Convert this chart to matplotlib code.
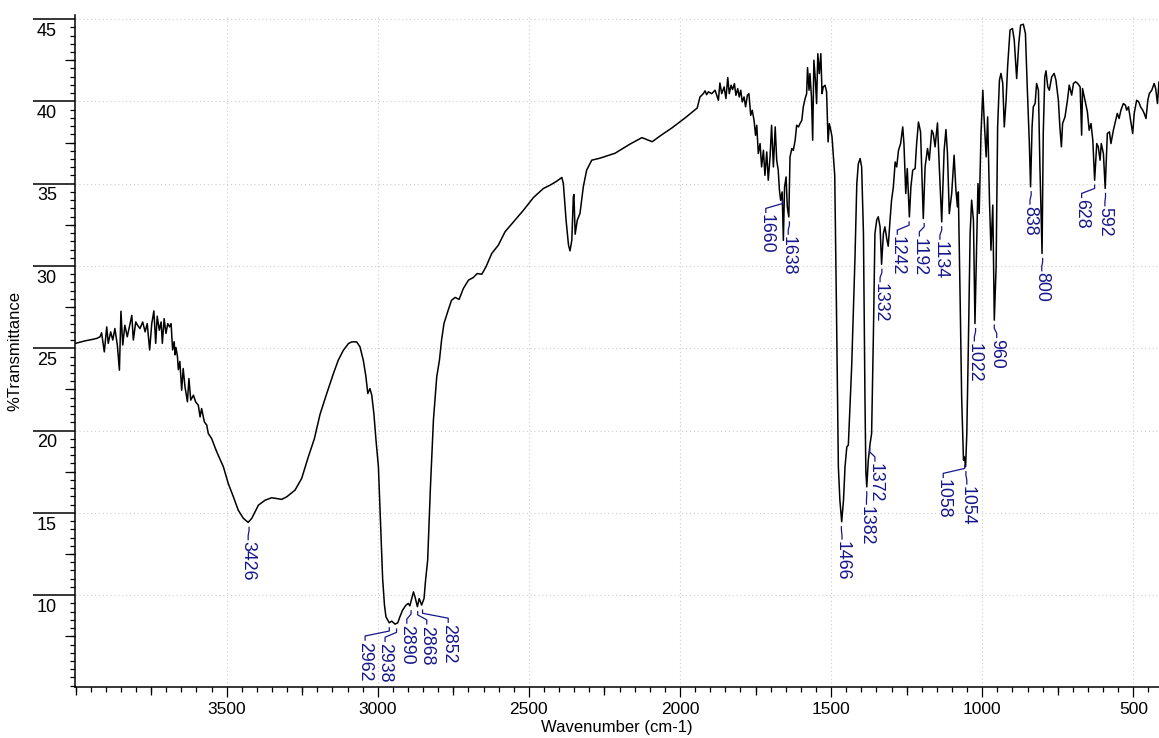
import matplotlib.pyplot as plt
from matplotlib.ticker import MultipleLocator, NullLocator

plt.rcParams['font.family'] = ['Liberation Sans', 'DejaVu Sans']

# IR spectrum (wavenumber in cm-1, %T)
wavenumber = [
    4002, 3969, 3947, 3930, 3919, 3914, 3905, 3897, 3892, 3884,
    3877, 3870, 3862, 3855, 3850, 3844, 3837, 3829, 3822, 3814,
    3809, 3801, 3795, 3787, 3778, 3770, 3763, 3755, 3748, 3741,
    3735, 3730, 3723, 3717, 3713, 3707, 3701, 3695, 3689, 3684,
    3679, 3674, 3671, 3668, 3663, 3660, 3655, 3649, 3644, 3638,
    3630, 3625, 3619, 3610, 3603, 3594, 3588, 3583, 3574, 3566,
    3561, 3550, 3536, 3528, 3511, 3495, 3478, 3462, 3445, 3429,
    3417, 3395, 3373, 3351, 3318, 3301, 3274, 3252, 3230, 3210,
    3191, 3169, 3147, 3131, 3114, 3097, 3086, 3070, 3059, 3048,
    3040, 3033, 3026, 3020, 3013, 3006, 2998, 2990, 2984, 2978,
    2973, 2962, 2954, 2943, 2934, 2927, 2918, 2907, 2899, 2894,
    2886, 2882, 2877, 2869, 2863, 2855, 2847, 2842, 2835, 2826,
    2816, 2805, 2796, 2789, 2781, 2767, 2756, 2744, 2731, 2717,
    2700, 2684, 2671, 2656, 2642, 2623, 2601, 2579, 2551, 2518,
    2485, 2452, 2430, 2408, 2391, 2386, 2377, 2369, 2364, 2358,
    2353, 2351, 2347, 2340, 2331, 2320, 2309, 2292, 2265, 2215,
    2166, 2126, 2092, 2066, 2026, 1983, 1943, 1934, 1923, 1917,
    1912, 1906, 1895, 1884, 1873, 1868, 1862, 1854, 1848, 1842,
    1837, 1831, 1826, 1820, 1815, 1809, 1804, 1799, 1794, 1788,
    1783, 1777, 1772, 1766, 1761, 1755, 1750, 1746, 1741, 1735,
    1730, 1724, 1719, 1713, 1708, 1702, 1697, 1691, 1685, 1680,
    1675, 1671, 1667, 1662, 1658, 1654, 1649, 1645, 1640, 1636,
    1630, 1625, 1619, 1614, 1608, 1603, 1597, 1592, 1586, 1581,
    1578, 1573, 1570, 1565, 1561, 1557, 1552, 1548, 1544, 1539,
    1534, 1530, 1526, 1520, 1515, 1510, 1506, 1501, 1497, 1493,
    1488, 1482, 1476, 1471, 1465, 1459, 1454, 1448, 1443, 1432,
    1426, 1421, 1415, 1410, 1404, 1399, 1393, 1388, 1385, 1382,
    1377, 1371, 1366, 1360, 1355, 1349, 1344, 1338, 1333, 1327,
    1322, 1316, 1311, 1305, 1300, 1294, 1288, 1283, 1277, 1270,
    1263, 1259, 1253, 1248, 1241, 1236, 1230, 1222, 1217, 1211,
    1204, 1195, 1189, 1181, 1175, 1167, 1162, 1156, 1148, 1142,
    1134, 1126, 1120, 1115, 1109, 1101, 1093, 1087, 1082, 1079,
    1073, 1068, 1062, 1059, 1055, 1051, 1046, 1040, 1035, 1029,
    1024, 1018, 1014, 1010, 1004, 998, 994, 987, 982, 976,
    971, 965, 960, 954, 949, 943, 938, 932, 927, 921,
    916, 908, 900, 894, 886, 879, 873, 864, 857, 851,
    844, 840, 835, 831, 825, 820, 814, 809, 802, 798,
    793, 789, 783, 778, 770, 762, 756, 748, 743, 738,
    734, 726, 718, 712, 704, 698, 691, 684, 676, 671,
    668, 660, 652, 646, 640, 634, 628, 621, 616, 610,
    606, 599, 593, 586, 579, 574, 566, 558, 553, 547,
    541, 533, 526, 522, 516, 509, 502, 497, 489, 482,
    476, 469, 464, 458, 452, 447, 439, 431, 426, 420,
    415, 410,
]
transmittance = [
    25.29, 25.45, 25.53, 25.60, 25.70, 25.94, 24.78, 26.30, 25.30, 26.00,
    25.50, 26.20, 25.20, 23.67, 27.25, 25.20, 26.40, 25.70, 26.30, 27.00,
    25.50, 26.60, 26.40, 26.20, 26.60, 26.00, 26.50, 24.90, 26.50, 27.27,
    25.30, 26.95, 26.10, 26.60, 25.30, 26.80, 25.90, 26.50, 26.30, 26.50,
    24.90, 25.40, 24.60, 25.05, 24.50, 23.70, 24.20, 22.45, 23.77, 22.66,
    21.75, 23.16, 21.85, 22.15, 21.75, 21.54, 20.83, 21.34, 20.53, 20.33,
    19.82, 19.52, 18.85, 18.50, 17.80, 16.79, 15.98, 15.17, 14.67, 14.42,
    14.67, 15.47, 15.77, 15.92, 15.82, 15.98, 16.38, 17.09, 18.40, 19.50,
    21.00, 22.25, 23.46, 24.27, 24.88, 25.29, 25.39, 25.39, 25.09, 24.27,
    23.36, 22.25, 22.55, 22.15, 21.03, 19.42, 17.80, 14.00, 11.00, 9.40,
    8.68, 8.32, 8.42, 8.24, 8.32, 8.68, 9.09, 9.39, 9.50, 9.35,
    9.90, 10.20, 9.90, 9.30, 9.80, 9.40, 9.80, 10.90, 12.13, 16.50,
    20.63, 23.27, 24.28, 25.50, 26.51, 27.32, 27.92, 28.09, 27.97, 28.63,
    29.14, 29.30, 29.54, 29.50, 29.95, 30.76, 31.27, 32.08, 32.68, 33.39,
    34.16, 34.71, 34.91, 35.15, 35.38, 35.01, 32.78, 31.27, 30.92, 31.57,
    34.20, 34.34, 31.93, 32.78, 33.19, 34.81, 35.82, 36.43, 36.55, 36.85,
    37.40, 37.80, 37.55, 37.90, 38.40, 39.00, 39.60, 40.27, 40.47, 40.64,
    40.41, 40.58, 40.47, 40.68, 40.07, 41.12, 40.47, 40.88, 40.17, 41.45,
    40.47, 40.98, 40.72, 41.08, 40.37, 40.78, 40.27, 40.68, 39.97, 40.27,
    39.67, 40.37, 40.47, 39.16, 39.46, 38.85, 37.94, 38.55, 36.83, 37.44,
    36.02, 37.03, 35.51, 36.93, 35.21, 36.63, 38.55, 36.02, 38.45, 36.42,
    35.82, 34.60, 33.99, 34.50, 31.56, 34.80, 35.41, 33.59, 32.98, 36.63,
    37.13, 37.03, 37.64, 38.55, 38.45, 38.65, 38.85, 39.67, 40.17, 40.47,
    42.05, 40.68, 41.69, 40.27, 37.64, 42.50, 41.28, 39.87, 42.90, 41.69,
    42.90, 40.47, 40.88, 40.98, 40.58, 37.54, 38.65, 38.25, 37.84, 36.83,
    35.50, 27.00, 17.80, 15.77, 14.46, 15.77, 17.80, 19.01, 19.12, 23.87,
    27.50, 30.50, 35.00, 36.20, 36.53, 36.02, 32.00, 22.00, 17.50, 16.58,
    18.20, 19.20, 19.82, 25.90, 31.97, 32.80, 32.99, 32.38, 30.10, 31.97,
    32.38, 31.67, 31.20, 32.79, 34.00, 34.80, 36.32, 36.02, 37.03, 37.44,
    38.45, 37.44, 34.40, 35.92, 32.98, 34.80, 35.82, 35.92, 37.44, 38.75,
    38.15, 32.88, 36.02, 37.14, 36.43, 38.25, 38.05, 37.24, 38.69, 36.02,
    32.68, 37.03, 38.29, 36.83, 33.18, 34.40, 36.73, 34.60, 33.59, 34.50,
    27.92, 22.00, 18.20, 18.40, 17.80, 19.80, 25.00, 31.97, 34.00, 32.78,
    26.50, 31.57, 35.01, 33.19, 38.05, 40.68, 39.06, 36.63, 39.06, 34.00,
    30.96, 33.70, 26.71, 29.95, 38.45, 41.29, 41.70, 41.09, 38.45, 40.07,
    42.10, 44.33, 44.43, 43.72, 41.39, 43.52, 44.63, 44.69, 44.13, 40.88,
    37.44, 34.81, 38.45, 39.67, 39.87, 41.09, 40.68, 36.02, 30.76, 38.05,
    41.49, 41.86, 40.88, 40.68, 41.49, 41.70, 41.29, 40.07, 38.45, 37.24,
    38.66, 39.06, 40.07, 40.99, 40.38, 41.09, 41.19, 41.09, 40.88, 37.95,
    40.78, 40.07, 39.37, 38.25, 38.66, 37.64, 35.21, 37.44, 37.24, 36.43,
    37.44, 36.83, 34.71, 38.05, 38.15, 37.44, 38.25, 38.86, 39.27, 38.96,
    39.47, 39.87, 39.77, 39.47, 39.67, 38.86, 38.05, 39.27, 40.07, 39.97,
    39.67, 39.47, 39.27, 38.96, 40.07, 40.48, 40.68, 41.09, 40.78, 39.87,
    41.19, 40.00,
]

# peak annotations: label, %T at the peak, wavenumber where the text sits
peak_labels = [3426, 2962, 2938, 2890, 2868, 2852, 1660, 1638, 1466, 1382,
               1372, 1332, 1242, 1192, 1134, 1058, 1054, 1022, 960, 838,
               800, 628, 592]
peak_t = [14.42, 8.32, 8.24, 9.35, 9.30, 9.40, 34.30, 32.98, 14.46, 16.58,
          19.20, 30.10, 32.98, 32.88, 32.68, 18.20, 17.80, 26.50, 26.71, 34.81,
          30.76, 35.21, 34.71]
label_wn = [3429, 3042, 2976, 2904, 2838, 2767, 1716, 1642, 1464, 1383,
            1355, 1338, 1281, 1208, 1140, 1129, 1051, 1026, 952, 842,
            803, 671, 594]

y_ticks = [10, 15, 20, 25, 30, 35, 40, 45]
x_ticks = [3500, 3000, 2500, 2000, 1500, 1000, 500]

label_color = '#16168c'

fig = plt.figure(figsize=(11.59, 7.38), dpi=100)
ax = fig.add_axes([75 / 1159, 51 / 738, 1084 / 1159, 672 / 738])

ax.plot(wavenumber, transmittance, color='black', lw=1.1)

# leaders and rotated peak labels
for lab, t, wl in zip(peak_labels, peak_t, label_wn):
    ax.plot([lab, lab, wl, wl], [t - 0.3, t - 0.5, t - 0.8, t - 1.05],
            color=label_color, lw=0.9)
    ax.text(wl, t - 1.15, str(lab), rotation=270, ha='center', va='top',
            fontsize=12.8, color=label_color)

ax.set_xlim(4002, 415)
ax.set_ylim(4.42, 45.25)

ax.spines['top'].set_visible(False)
ax.spines['right'].set_visible(False)
ax.spines['left'].set_linewidth(1.1)
ax.spines['bottom'].set_linewidth(1.1)

ax.set_xticks(x_ticks)
ax.xaxis.set_minor_locator(MultipleLocator(50))
ax.set_yticks(y_ticks)
ax.yaxis.set_minor_locator(MultipleLocator(0.5))
ax.tick_params(axis='x', which='major', length=7.5, width=0.9, labelsize=12.5, pad=3)
ax.tick_params(axis='x', which='minor', length=3.6, width=0.9)
ax.tick_params(axis='y', which='major', length=30, width=1.1, labelleft=False)
ax.tick_params(axis='y', which='minor', length=3.6, width=0.9)

# y labels sit under the long major ticks
for v in y_ticks:
    ax.annotate(str(v), xy=(0, v), xycoords=('axes fraction', 'data'),
                xytext=(-13, -8.8), textcoords='offset points',
                ha='right', va='center', fontsize=13)

# medium ticks every 250 cm-1 and every 2.5 %T
secx = ax.secondary_xaxis('bottom')
secx.set_xticks([4000, 3750, 3250, 2750, 2250, 1750, 1250, 750])
secx.xaxis.set_minor_locator(NullLocator())
secx.tick_params(length=6, width=0.9, labelbottom=False)
secx.spines['bottom'].set_visible(False)

secy = ax.secondary_yaxis('left')
secy.set_yticks([7.5, 12.5, 17.5, 22.5, 27.5, 32.5, 37.5, 42.5])
secy.yaxis.set_minor_locator(NullLocator())
secy.tick_params(length=7.2, width=0.9, labelleft=False)
secy.spines['left'].set_visible(False)

ax.set_axisbelow(True)
ax.grid(True, which='major', linestyle=(0, (1, 2.5)), color='#cccccc', linewidth=0.8)

ax.set_xlabel('Wavenumber (cm-1)', fontsize=12)
ax.xaxis.set_label_coords(0.5, -0.049)
ax.set_ylabel('%Transmittance', fontsize=12)
ax.yaxis.set_label_coords(-0.049, 0.5)

fig.savefig('out.png', dpi=100)
